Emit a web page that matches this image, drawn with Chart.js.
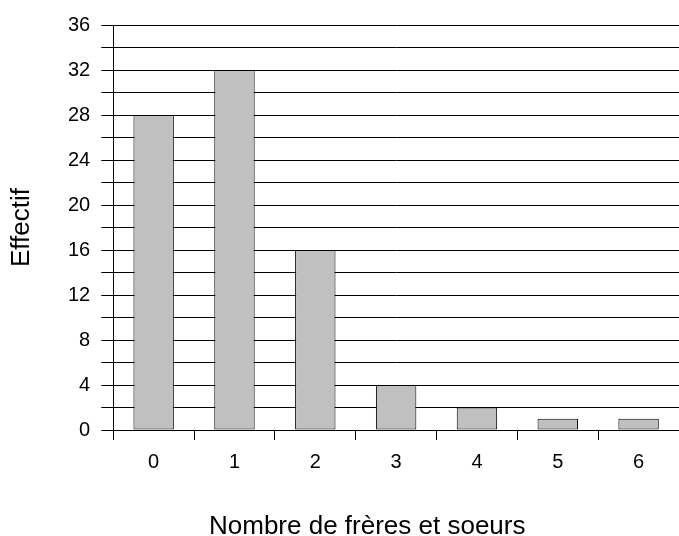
<!DOCTYPE html>
<html lang="fr">
<head>
    <meta charset="UTF-8">
    <title>Nombre de frères et soeurs</title>
    <script src="https://cdn.jsdelivr.net/npm/chart.js"></script>
    <style>
        body { margin: 0; background: #fff; }
        #wrap { width: 679px; height: 536px; }
    </style>
</head>
<body>
    <div id="wrap"><canvas id="chart"></canvas></div>

    <script>
        // data
        const categories = ['0', '1', '2', '3', '4', '5', '6'];
        const effectifs = [28, 32, 16, 4, 2, 1, 1];
        const yMax = 36;
        const gridStep = 2;   // a line every 2
        const labelStep = 4;  // a label every 4

        const ctx = document.getElementById('chart').getContext('2d');
        new Chart(ctx, {
            type: 'bar',
            data: {
                labels: categories,
                datasets: [{
                    label: 'Effectif',
                    data: effectifs,
                    backgroundColor: '#c0c0c0',
                    borderColor: '#000',
                    borderWidth: 1,
                    borderSkipped: false,
                    barPercentage: 0.5,
                    categoryPercentage: 1
                }]
            },
            options: {
                responsive: true,
                maintainAspectRatio: false,
                animation: false,
                layout: { padding: { top: 25, right: 0, bottom: 0, left: 0 } },
                plugins: {
                    legend: { display: false },
                    tooltip: { enabled: false }
                },
                scales: {
                    x: {
                        offset: true,
                        grid: {
                            offset: true,
                            drawOnChartArea: false,
                            drawTicks: true,
                            tickLength: 10,
                            color: '#000'
                        },
                        border: { color: '#000', width: 1 },
                        ticks: {
                            color: '#000',
                            padding: 10,
                            font: { family: 'Liberation Sans', size: 20 }
                        },
                        title: {
                            display: true,
                            // trailing spaces push the centred title a bit left, like the original
                            text: 'Nombre de frères et soeurs\u00a0\u00a0\u00a0\u00a0\u00a0\u00a0\u00a0\u00a0',
                            color: '#000',
                            font: { family: 'Liberation Sans', size: 26, lineHeight: 1 },
                            padding: { top: 30, bottom: -4 }
                        }
                    },
                    y: {
                        min: 0,
                        max: yMax,
                        grid: {
                            color: '#000',
                            lineWidth: 1,
                            drawTicks: true,
                            tickLength: 12
                        },
                        border: { color: '#000', width: 1 },
                        ticks: {
                            stepSize: gridStep,
                            maxTicksLimit: 40,
                            autoSkip: false,
                            color: '#000',
                            padding: 11,
                            font: { family: 'Liberation Sans', size: 20 },
                            callback: function(value) {
                                return value % labelStep === 0 ? value : '';
                            }
                        },
                        title: {
                            display: true,
                            text: 'Effectif',
                            color: '#000',
                            font: { family: 'Liberation Sans', size: 26, lineHeight: 1 },
                            padding: { top: 9, bottom: 22 }
                        }
                    }
                }
            }
        });
    </script>
</body>
</html>
